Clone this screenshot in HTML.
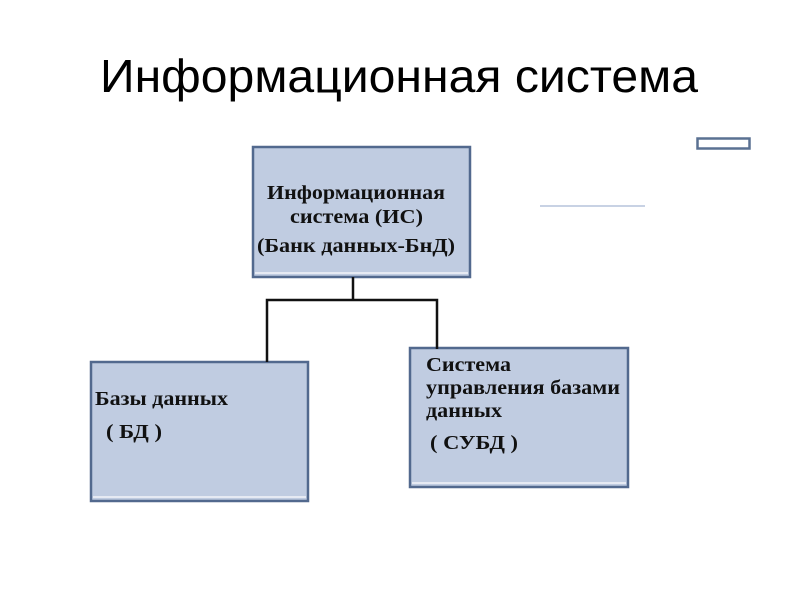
<!DOCTYPE html>
<html><head><meta charset="utf-8"><style>html,body{margin:0;padding:0;background:#fff}svg{display:block}</style></head>
<body>
<svg width="800" height="600" xmlns="http://www.w3.org/2000/svg">
<text x="100" y="92" font-family="Liberation Sans, sans-serif" font-size="46" fill="#000" textLength="598" lengthAdjust="spacingAndGlyphs">Информационная система</text>
<rect x="697.5" y="138.5" width="52" height="10" fill="#fff" stroke="#5a7192" stroke-width="2.5"/>
<line x1="540" y1="206" x2="645" y2="206" stroke="#c8d2e4" stroke-width="2"/>
<g fill="#c0cce1" stroke="#52698e" stroke-width="2.5">
<rect x="253" y="147" width="217" height="130"/>
<rect x="91" y="362" width="217" height="139"/>
<rect x="410" y="348" width="218" height="139"/>
</g>
<g stroke="#fff" stroke-width="1.5" opacity="0.8">
<line x1="93" y1="497" x2="306" y2="497"/><line x1="412" y1="483" x2="626" y2="483"/>
<line x1="255" y1="273" x2="468" y2="273"/>
</g>
<g stroke="#111" stroke-width="2.5" fill="none">
<polyline points="353,277 353,300"/>
<polyline points="267,362 267,300 437,300 437,349"/>
</g>
<g font-family="Liberation Serif, serif" font-weight="bold" font-size="19.5" fill="#111">
<text x="267" y="199" textLength="178" lengthAdjust="spacingAndGlyphs">Информационная</text>
<text x="290" y="223" textLength="133" lengthAdjust="spacingAndGlyphs">система (ИС)</text>
<text x="257" y="252" textLength="198" lengthAdjust="spacingAndGlyphs">(Банк данных-БнД)</text>
<text x="95" y="405" textLength="133" lengthAdjust="spacingAndGlyphs">Базы данных</text>
<text x="106" y="438" textLength="56" lengthAdjust="spacingAndGlyphs">( БД )</text>
<text x="426" y="371" textLength="85" lengthAdjust="spacingAndGlyphs">Система</text>
<text x="426" y="394" textLength="194" lengthAdjust="spacingAndGlyphs">управления базами</text>
<text x="426" y="417" textLength="76" lengthAdjust="spacingAndGlyphs">данных</text>
<text x="430" y="449" textLength="88" lengthAdjust="spacingAndGlyphs">( СУБД )</text>
</g>
</svg>
</body></html>
